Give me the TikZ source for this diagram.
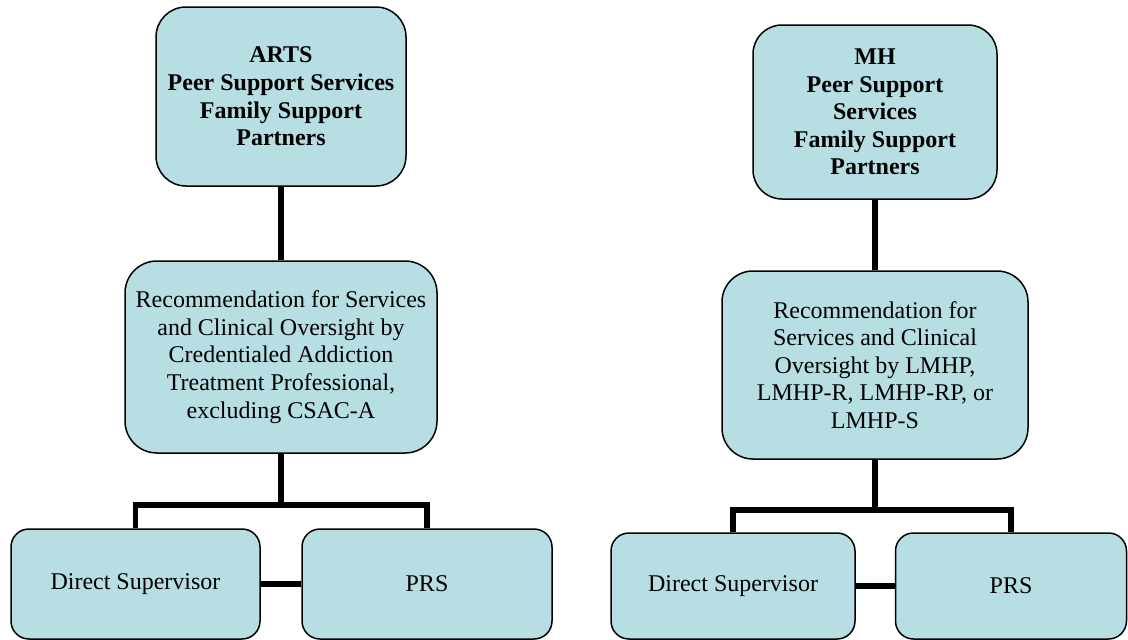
\documentclass[tikz,border=0pt]{standalone}
\usepackage{fontspec}
\setmainfont{Liberation Serif}
\usetikzlibrary{positioning}
\definecolor{boxfill}{RGB}{183,222,227}

\begin{document}
\begin{tikzpicture}[x=1pt,y=-1pt,
	main node/.style={rectangle,rounded corners=#1,fill=boxfill,draw,line width=1.5pt,align=center,inner sep=0pt,font=\fontsize{24}{27.6}\selectfont},
	main node/.default=18pt,
	head node/.style={main node=#1,font=\fontsize{24}{27.6}\selectfont\bfseries},
	link/.style={draw,line width=5.5pt}]
	\useasboundingbox (0,0) rectangle (1128,640);

	% ARTS
	\node[head node=30pt,minimum width=250pt,minimum height=179pt] (arts) at (281,96.5) {ARTS\\Peer Support Services\\Family Support\\Partners};
	\node[main node=32pt,minimum width=312pt,minimum height=192pt] (artsrec) at (281,357) {Recommendation for Services\\and Clinical Oversight by\\Credentialed Addiction\\Treatment Professional,\\excluding CSAC-A};
	\node[main node,minimum width=249pt,minimum height=110pt] (lds) at (135.5,584) {Direct Supervisor};
	\node[main node,minimum width=250pt,minimum height=110pt] (lprs) at (427,584) {PRS};
	\coordinate (lbar) at (0,505);

	% MH
	\node[head node=29pt,minimum width=244pt,minimum height=174pt] (mh) at (875,112) {MH\\Peer Support\\Services\\Family Support\\Partners};
	\node[main node=31pt,minimum width=306pt,minimum height=188pt] (mhrec) at (875,365) {Recommendation for\\Services and Clinical\\Oversight by LMHP,\\LMHP-R, LMHP-RP, or\\LMHP-S};
	\node[main node,minimum width=244pt,minimum height=106pt] (rds) at (733,586) {Direct Supervisor};
	\node[main node,minimum width=231pt,minimum height=106pt] (rprs) at (1011,586) {PRS};
	\coordinate (rbar) at (0,510);

	\draw[link] (arts) -- (artsrec);
	\draw[link] (artsrec.south) -- (artsrec.south |- lbar) -| (lds.north);
	\draw[link] (artsrec.south |- lbar) -| (lprs.north);
	\draw[link] (lds) -- (lprs);

	\draw[link] (mh) -- (mhrec);
	\draw[link] (mhrec.south) -- (mhrec.south |- rbar) -| (rds.north);
	\draw[link] (mhrec.south |- rbar) -| (rprs.north);
	\draw[link] (rds) -- (rprs);
\end{tikzpicture}
\end{document}
